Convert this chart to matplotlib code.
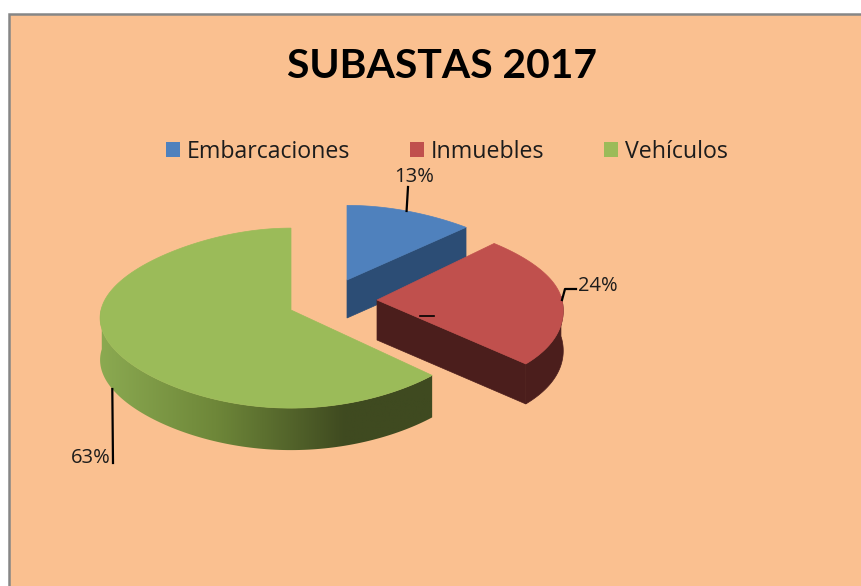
import numpy as np
import matplotlib
matplotlib.use('Agg')
import matplotlib.pyplot as plt
from matplotlib.colors import LinearSegmentedColormap
from matplotlib.patches import Patch, Polygon, Rectangle

categories = ['Embarcaciones', 'Inmuebles', 'Vehículos']
percent = [13, 24, 63]
leader_tails = [[(408, 187)], [(565, 289), (576, 289)], [(113, 463)]]
label_pos = [(414, 177), (598, 286), (91, 458)]

colors = ['#4F81BD', '#C0504D', '#9BBB59']
wall_colors = ['#2C4D75', '#4B1E1C', '#3F4A20']
background = '#FAC090'

# pie geometry in pixels, the slices are exploded from the green one
center = (291, 310)
explode = [(56, -30), (86, -10), (0, 0)]
radius_x = [188, 185, 190]
radius_y = [82, 88, 90]
depth = [38, 40, 42]
front_stretch = [0, 0.18, 0]


def project(i, angle):
    # angle in degrees, clockwise from the top of the pie
    t = np.radians(angle)
    u, v = np.sin(t), np.cos(t)
    scale = 1 - 0.11 * v - 0.12 * v ** 2 + front_stretch[i] * np.where(v < 0, v ** 2, 0)
    x = center[0] + explode[i][0] + radius_x[i] * u * scale
    y = center[1] + explode[i][1] - radius_y[i] * v * (1 - 0.09 * v)
    return x, y


def draw_slice(ax, i, start, stop):
    apex = (center[0] + explode[i][0], center[1] + explode[i][1])
    angles = np.linspace(start, stop, 181)
    x, y = project(i, angles)

    # outer wall, only the part that faces us
    front = np.cos(np.radians(angles)) < 0.05
    wall_x = np.r_[x[front], x[front][::-1]]
    wall_y = np.r_[y[front], y[front][::-1] + depth[i]]
    if i == 2:
        # side of the green slice gets darker to the right, flat from x=345 on
        cmap = LinearSegmentedColormap.from_list(
            'wall', [(0, '#8CAB52'), (0.35, '#6E8739'), (0.725, wall_colors[2]), (1, wall_colors[2])])
        im = ax.imshow(np.linspace(0, 1, 256).reshape(1, -1), cmap=cmap, aspect='auto',
                       extent=(95, 440, 500, 300), zorder=2 + i)
        clip = Polygon(np.c_[wall_x, wall_y], transform=ax.transData, facecolor='none', edgecolor='none')
        ax.add_patch(clip)
        im.set_clip_path(clip)
    elif front.any():
        ax.fill(wall_x, wall_y, color=wall_colors[i], lw=0.5, zorder=2 + i)

    # inner wall on the cut that faces us
    if i != 2:
        ax.fill([apex[0], x[-1], x[-1], apex[0]],
                [apex[1], y[-1], y[-1] + depth[i], apex[1] + depth[i]],
                color=wall_colors[i], lw=0.5, zorder=2 + i)

    ax.fill(np.r_[apex[0], x], np.r_[apex[1], y], color=colors[i], lw=0.5, zorder=3 + i)


fig = plt.figure(figsize=(8.62, 5.86), dpi=100, facecolor='white')
ax = fig.add_axes([0, 0, 1, 1])

ax.add_patch(Rectangle((9, 14), 870, 590, facecolor=background, edgecolor='#868686', lw=1.8, zorder=0))

ax.text(442, 66, 'SUBASTAS 2017', fontsize=29.4, fontweight='bold', family='Lato',
        ha='center', va='center', color='black')

handles = [Patch(facecolor=c, edgecolor='none') for c in colors]
ax.legend(handles, categories, ncol=3, loc='center', bbox_to_anchor=(447, 152), bbox_transform=ax.transData,
          frameon=False, prop={'family': 'Open Sans', 'size': 16.7}, labelcolor='#1c1c1c',
          handlelength=0.6, handleheight=0.6, handletextpad=0.3, columnspacing=2.57,
          borderpad=0, borderaxespad=0)

edges = np.cumsum([0] + percent) * 3.6
for i in range(len(percent)):
    draw_slice(ax, i, edges[i], edges[i + 1])

    # leader from the middle of the slice edge out to the label
    mid = (edges[i] + edges[i + 1]) / 2
    mx, my = project(i, mid)
    if np.cos(np.radians(mid)) < -0.05:
        my = my + depth[i]
    tail = leader_tails[i]
    ax.plot([mx] + [p[0] for p in tail], [my] + [p[1] for p in tail], color='black', lw=1.6, zorder=8)
    ax.text(label_pos[i][0], label_pos[i][1], f'{percent[i]}%', fontsize=14.5, family='Open Sans',
            ha='center', va='center', color='#1c1c1c')

# small stray leader left on the red slice
ax.plot([420, 434], [316, 316], color='black', lw=1.2, zorder=8)

ax.set_xlim(0, 862)
ax.set_ylim(586, 0)
ax.axis('off')

plt.savefig('out.png', dpi=100)
